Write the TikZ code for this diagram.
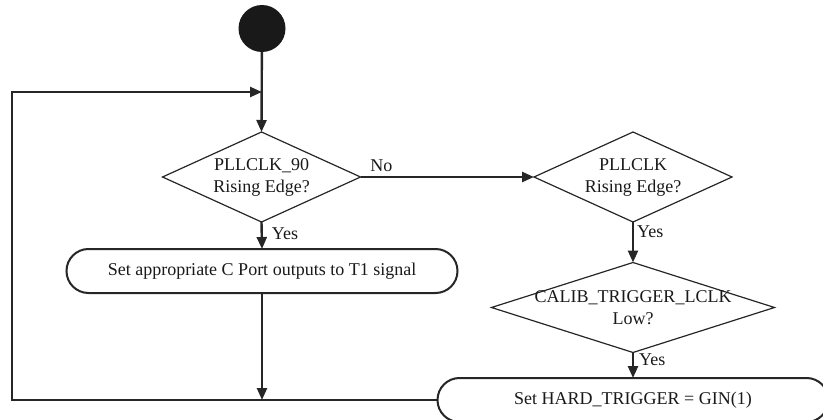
\documentclass[tikz,border=0pt]{standalone}
\usepackage{fontspec}
\setmainfont{Liberation Serif}
\usetikzlibrary{arrows.meta,shapes.geometric}
\begin{document}
\begin{tikzpicture}[x=1pt,y=-1pt,
  every node/.style={font=\fontsize{18}{22}\selectfont, text=black!90},
  dia/.style={diamond, draw=black!85, line width=1.2pt, inner sep=0pt, outer sep=0pt, minimum height=90pt, align=center},
  rbox/.style={rectangle, rounded corners=22pt, draw=black!85, line width=2pt, minimum height=44pt, inner sep=0pt, outer sep=0pt},
  arr/.style={draw=black!85, line width=2.4pt, -{Triangle[length=12pt,width=10pt]}},
  lbl/.style={inner sep=1pt}]
\useasboundingbox (0,0) rectangle (823,420);
\clip (0,0) rectangle (823,420);
\node[circle, fill=black!90, minimum size=47pt, inner sep=0pt] (start) at (262,28.5) {};
\node[dia, minimum width=198pt] (d1) at (261.5,177) {\makebox[0pt]{PLLCLK\_90}\\\makebox[0pt]{Rising Edge?}};
\node[dia, minimum width=198pt] (d2) at (633,177) {\makebox[0pt]{PLLCLK}\\\makebox[0pt]{Rising Edge?}};
\node[dia, minimum width=283pt] (d3) at (633,307.5) {\makebox[0pt]{CALIB\_TRIGGER\_LCLK}\\\makebox[0pt]{Low?}};
\node[rbox, minimum width=391pt] (r1) at (262,271) {Set appropriate C Port outputs to T1 signal};
\node[rbox, minimum width=391pt] (r2) at (633,400) {\raisebox{3pt}{Set HARD\_TRIGGER = GIN(1)}};
\coordinate (j1) at (262,92);
\coordinate (j2) at (262,400);
\coordinate (c1) at (12,400);
\coordinate (c2) at (12,92);
\draw[arr] (start) -- (d1.north);
\draw[arr] (r2.west) -- (c1) -- (c2) -- (j1);
\draw[arr] (d1.south) -- node[lbl, right, pos=0.45, xshift=8pt] {Yes} (r1.north);
\draw[arr] (d1.east) -- node[lbl, above, pos=0.12, yshift=3pt] {No} (d2.west);
\draw[arr] (d2.south) -- node[lbl, right, pos=0.25, xshift=2pt] {Yes} (d3.north);
\draw[arr] (d3.south) -- node[lbl, right, pos=0.3, xshift=4pt] {Yes} (r2.north);
\draw[arr] (r1.south) -- (j2);
\end{tikzpicture}
\end{document}
